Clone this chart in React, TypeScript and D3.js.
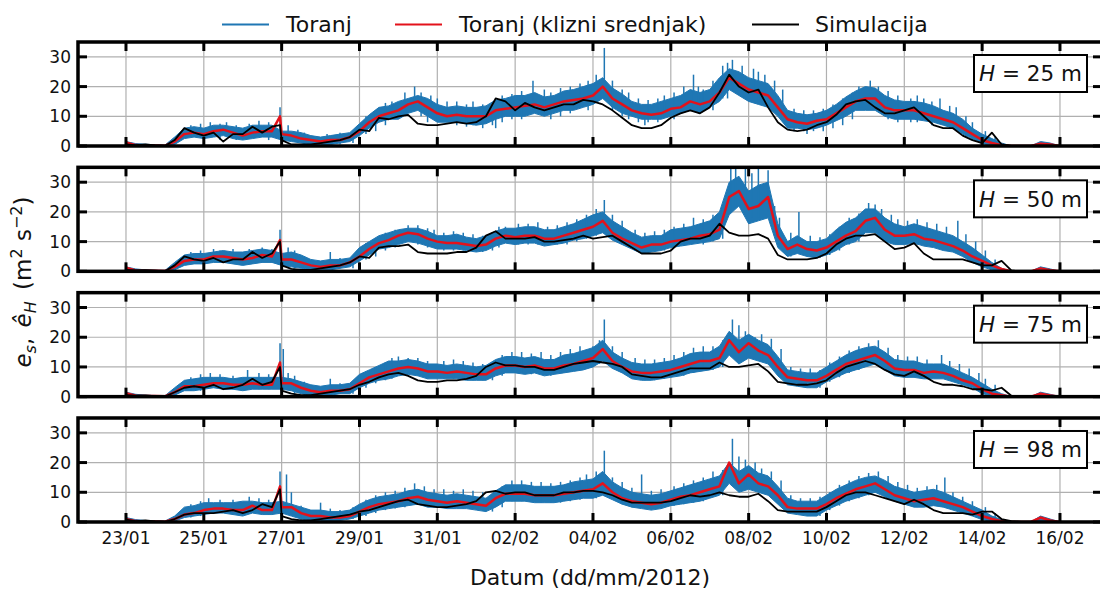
import React from "react";
import * as d3 from "d3";

// ---------------- DATA ----------------
// Sampling grid: every 6 h from 23/01/2012 00:00 to 16/02/2012 00:00 (97 values)
const START = Date.UTC(2012, 0, 23, 0);
const STEP_HOURS = 6;

const heightsM = [25, 50, 75, 98];
const tickLabels = ["23/01", "25/01", "27/01", "29/01", "31/01", "02/02", "04/02", "06/02", "08/02", "10/02", "12/02", "14/02", "16/02"];
const yTicks = [0, 10, 20, 30];
const legendLabels = ["Toranj", "Toranj (klizni srednjak)", "Simulacija"];
const xLabel = "Datum (dd/mm/2012)";

// ---- H = 25 m ----
const toranjHi25 = [
  1.5, 0.8, 0.6, 0.4, 0.3, 3, 6, 6.5, 6, 7, 7, 6.5, 6, 7, 7, 7,
  5, 5, 4.5, 3.5, 3, 3.5, 4, 4.5, 7.5, 10.5, 13, 13.5, 15, 16, 17, 16,
  14, 13, 13.5, 13, 13, 13.5, 15.5, 16, 17, 17, 18, 16.5, 17, 18.5, 19, 20,
  21, 23, 19.5, 17.5, 15, 14, 14, 15, 16, 17, 19, 18, 19, 23, 26, 25,
  23, 22, 21, 17, 12, 11, 10.5, 11, 12, 14, 16.5, 18.5, 20, 19.5, 17, 15.5,
  15, 15, 14.5, 13.5, 12, 11, 9, 6, 4, 2.5, 1, 0, 0, 0, 1.5, 1, 0,
];
const toranjLo25 = [
  0.3, 0, 0, 0, 0, 0.5, 2.5, 3, 2.5, 3, 3.5, 2.5, 2, 2.5, 3, 3,
  2, 1.5, 1, 0.5, 0.5, 0.5, 1, 1.5, 3.5, 6, 8, 9, 9, 11, 12, 10,
  8, 8, 8, 7.5, 7, 7.5, 9, 10, 10, 10, 11, 10, 11, 12, 12, 13,
  14, 16, 13, 11, 10, 9, 9, 9, 10, 11, 12, 11, 13, 15, 19, 17,
  15, 14, 13, 10, 6, 6, 5.5, 6, 7, 8.5, 10, 12, 12, 12, 10, 9,
  9, 9, 8.5, 8, 7, 6, 4, 2.5, 0.8, 0.2, 0, 0, 0, 0, 0, 0, 0,
];
// needles of the raw series: [hours after 23/01 00:00, low, high]
const spikes25 = [
  [0, 0, 2], [40, 3, 7], [46, 3, 7.5], [52, 3, 8], [58, 2, 7.5], [62, 4, 8], [68, 2, 7],
  [76, 3, 7.5], [82, 4, 8.5], [88, 2, 8], [95, 3, 13], [100, 2, 7], [106, 1, 5.5], [110, 0.5, 4.5],
  [124, 0.5, 4], [132, 0.5, 4.5], [140, 1, 5], [148, 4, 10], [154, 5, 12], [160, 7, 14.5],
  [164, 10, 15], [172, 12, 18], [178, 13, 20], [182, 10, 18], [186, 8, 13], [188, 12, 17],
  [192, 9, 16], [198, 10, 15], [204, 7, 15], [210, 6.5, 14], [214, 7, 15], [220, 6, 14],
  [226, 7, 14.5], [228, 6, 10], [232, 8, 17], [238, 9, 17.5], [244, 9, 18.5], [251, 12, 22],
  [258, 12, 19], [262, 9, 18], [268, 10, 19.5], [274, 11, 20], [280, 14, 21], [285, 12, 22],
  [290, 15, 24], [295, 17, 33], [300, 12, 22], [306, 10, 19], [310, 9, 18], [316, 8, 16],
  [320, 7, 10], [322, 8, 15.5], [328, 8, 16], [332, 10, 17], [338, 9, 18], [344, 12, 20],
  [350, 13, 24], [353, 11, 20], [356, 12, 19], [362, 12, 22], [368, 16, 27], [371, 16, 28],
  [374, 19, 29], [380, 18, 27], [387, 17, 26], [390, 15, 25], [394, 16, 24], [400, 12, 22],
  [405, 9, 19], [412, 5, 12.5], [418, 5, 12], [420, 4, 7], [424, 5, 12], [430, 5, 12.5],
  [436, 6, 14], [442, 7, 16], [448, 9, 18], [452, 13, 20], [459, 14, 22], [464, 14, 20],
  [470, 9, 18.5], [476, 8, 17], [484, 8, 16], [488, 8, 17], [492, 10, 16], [497, 7, 15],
  [502, 9, 16], [508, 6, 13.5], [512, 8, 13], [518, 3, 10], [522, 2, 8], [530, 0.5, 5], [536, 0.2, 3],
];
const avg25 = [
  1.2, 0.3, 0.2, 0.2, 0.1, 1.5, 4, 4.5, 4, 5, 5.5, 4.5, 3.5, 4.5, 5, 5,
  4, 3.5, 2.5, 2, 1.5, 2, 2, 3, 5, 8, 10, 11, 12, 14, 15, 13,
  11, 10, 10.5, 10, 10, 10, 12, 12.5, 13, 13.5, 14, 13, 14, 15, 15.5, 16,
  17, 20, 16, 14, 12, 11, 10.5, 11, 12.5, 13, 15, 14, 15, 18, 23, 21,
  19, 18, 17, 13, 9, 8, 7.5, 8.5, 9, 11, 13, 15, 16, 16, 13, 12,
  12, 12, 11, 10, 9, 8, 6, 4, 2, 1, 0.3, 0, 0, 0, 0.8, 0.5, 0,
];
const avgExtra25 = [[95, 10]];
const sim25 = [
  0.5, 0.3, 0.5, 0.2, 0, 2, 6, 4.5, 3.5, 4.5, 1.5, 4, 4, 6.5, 4.5, 6.5,
  2, 0.5, 0.5, 0.5, 1, 1.5, 2, 3, 5.5, 5, 9.5, 9, 10, 10.5, 7.5, 7,
  7, 7.5, 8, 7.5, 8, 10, 16, 15, 12, 14.5, 13, 12, 13, 14, 14, 15.5,
  15, 14, 12, 9.5, 7, 6, 6, 7, 9.5, 11, 12, 11, 13, 18, 24, 20,
  18, 19, 13, 8, 5.5, 5, 5.5, 7, 8, 10.5, 14, 15, 15.5, 13, 11, 11,
  12, 13, 10, 7, 6, 6, 3.5, 2, 1, 4.5, 0.5, 0, 0, 0, 0, 0, 0,
];
const simExtra25 = [[95, 7]];

// ---- H = 50 m ----
const toranjHi50 = [
  1.5, 0.8, 0.5, 0.4, 0.3, 3, 5.5, 6, 6, 6.5, 7, 6.5, 6.5, 7, 7.5, 7,
  6, 6.5, 5.5, 4, 3.5, 4, 4, 4.5, 8, 10, 12, 13, 14, 14.5, 14.5, 13.5,
  12, 12, 12.5, 11.5, 11, 12, 13.5, 14.5, 14.5, 15, 15, 14, 14, 15, 16, 17.5,
  19, 20, 17, 15, 13, 11.5, 12, 12, 14, 14.5, 15, 16, 17, 20, 30, 32,
  27, 29, 30, 16, 10, 12, 10, 10, 11, 14, 16.5, 18, 21, 21, 18, 16,
  15, 16, 15, 14, 13, 12, 10, 8, 5.5, 3, 1, 0, 0, 0, 1.5, 0.8, 0,
];
const toranjLo50 = [
  0.3, 0, 0, 0, 0, 0.5, 2, 2.5, 2.5, 3, 3, 2.5, 2, 2.5, 3, 3,
  2, 1.5, 1, 0.5, 0.5, 0.5, 1, 1.5, 3.5, 5.5, 7.5, 8, 9, 10, 9.5, 8.5,
  7.5, 7.5, 7.5, 7, 6.5, 7, 8.5, 9.5, 9, 9.5, 9.5, 8.5, 9, 9.5, 10.5, 11,
  12, 13, 10.5, 9, 7.5, 6, 6.5, 7, 8, 8.5, 9, 9.5, 10, 11, 19, 22,
  16, 17, 18, 8, 5, 6, 5, 4.5, 5.5, 7, 9, 10, 13, 13, 10, 9,
  9, 9.5, 8.5, 8, 7, 6.5, 5, 3, 1.5, 0.5, 0, 0, 0, 0, 0, 0, 0,
];
const spikes50 = [
  [0, 0, 2.5], [40, 2.5, 6.5], [46, 2.5, 7], [54, 4, 7.5], [58, 3, 7], [66, 2.5, 7.5],
  [76, 2.5, 7.5], [84, 3, 8], [90, 3, 7.5], [95, 3, 14], [100, 3, 8], [104, 1, 7], [110, 0.5, 5],
  [126, 1, 6.5], [132, 1, 4.5], [140, 1, 5], [148, 4, 9.5], [154, 5, 11], [160, 7, 13],
  [166, 8, 14], [174, 11, 15.5], [180, 9, 15.5], [186, 8, 14.5], [190, 8, 14], [196, 7, 13],
  [202, 7, 13.5], [208, 7, 13], [214, 6.5, 12.5], [220, 6.5, 12], [226, 7, 13], [230, 8, 15],
  [234, 10, 15], [242, 9, 16], [248, 9, 16], [254, 9, 16.5], [260, 8.5, 15], [266, 9, 15.5],
  [272, 9, 16.5], [278, 10, 17.5], [284, 11, 19], [290, 12, 21], [295, 14, 24], [300, 11, 19],
  [306, 10, 17], [314, 7, 14], [320, 6, 13], [326, 6.5, 13.5], [332, 7, 14], [338, 8, 15],
  [344, 8.5, 16], [350, 10, 18], [356, 9, 17.5], [362, 10, 19], [368, 11, 22], [373, 20, 38],
  [376, 22, 37], [382, 20, 35], [386, 18, 33], [390, 18, 37], [396, 20, 34], [400, 12, 22],
  [403, 8, 18], [410, 5, 13], [415, 7, 20], [422, 5, 12], [428, 4.5, 11.5], [434, 5.5, 12.5],
  [440, 7, 15], [446, 9, 18], [452, 10, 19.5], [458, 14, 23], [462, 13, 22.5], [466, 14, 21],
  [472, 10, 19], [476, 9, 17.5], [482, 9, 17], [488, 9, 17.5], [494, 8.5, 16.5], [500, 8, 16],
  [506, 7, 15], [513, 7, 17], [518, 6, 12.5], [524, 3, 10], [530, 1.5, 7], [536, 0.5, 4],
];
const avg50 = [
  1.2, 0.3, 0.2, 0.2, 0.1, 1.5, 3.5, 4, 4, 5, 5, 4.5, 4, 4.5, 5.5, 5,
  4, 4, 3, 2, 1.5, 2, 2, 3, 5, 7.5, 9.5, 10.5, 12, 13, 12.5, 11,
  10, 9.5, 9.5, 9, 8.5, 9, 11, 12, 11.5, 12, 12, 11, 11, 12, 13, 14,
  15, 17, 13, 11, 9.5, 8, 9, 9, 10, 10.5, 11, 12, 12.5, 14, 25, 27,
  21, 22, 25, 12, 7.5, 9, 7.5, 7, 8, 10, 12, 13.5, 17, 18, 14, 12,
  12, 12.5, 11, 10.5, 9.5, 8.5, 7, 5, 3.5, 2, 0.8, 0, 0, 0, 1, 0.4, 0,
];
const avgExtra50 = [[95, 10.5]];
const sim50 = [
  0.5, 0.3, 0.4, 0.2, 0, 2, 5, 4, 3.5, 4.5, 3, 4, 4, 6.5, 4.5, 6,
  2, 0.8, 0.5, 0.5, 1, 1.5, 2, 3, 5, 4.5, 8, 8.5, 8.5, 9, 6.5, 6,
  6, 6, 6.5, 6.5, 8, 12, 13.5, 11, 11, 11, 11.5, 10, 10, 10.5, 11, 12,
  11, 11.5, 12, 10, 8, 6, 6, 6, 7, 10, 11, 11, 12, 16, 13, 12,
  12, 12.5, 11, 5.5, 4, 4, 4, 4.5, 6, 9, 11, 12, 12, 12.5, 10, 7.5,
  8, 9.5, 6, 4, 4, 4, 4, 3, 2, 2, 3.5, 0.3, 0, 0, 0, 0, 0,
];
const simExtra50 = [[95, 10]];

// ---- H = 75 m ----
const toranjHi75 = [
  1.5, 0.8, 0.5, 0.4, 0.3, 3, 5.5, 6, 6.5, 6.5, 6.5, 6, 6.5, 6.5, 6.5, 6.5,
  6.5, 6, 5, 4, 3.5, 4, 4, 4.5, 7.5, 9, 10.5, 12, 12, 12.5, 12, 11,
  11, 10.5, 11, 10.5, 10, 10.5, 12.5, 13.5, 13.5, 13, 13.5, 12.5, 12.5, 14, 14.5, 15.5,
  16.5, 19, 15, 13, 11.5, 11, 11, 11.5, 12, 13, 14.5, 15, 15, 17, 22, 19,
  21, 19, 17.5, 13.5, 9, 8.5, 8, 8, 10, 12, 14, 15.5, 16.5, 17, 15, 12.5,
  12, 12, 11, 11, 11, 9.5, 8, 6.5, 4.5, 2.5, 1, 0, 0, 0, 1.5, 0.8, 0,
];
const toranjLo75 = [
  0.3, 0, 0, 0, 0, 0.5, 2, 2, 2.5, 3, 2.5, 2.5, 2, 2.5, 2.5, 2.5,
  2.5, 2, 1, 0.5, 0.5, 0.5, 1, 1, 3, 4.5, 5.5, 6, 7, 7.5, 7, 6,
  6, 6, 6, 5.5, 5.5, 5.5, 7, 8, 8, 7.5, 8, 7, 7.5, 8, 8.5, 9,
  10, 12, 9.5, 8, 6, 5.5, 5.5, 6, 6.5, 7, 8, 8.5, 9, 10, 14, 11,
  13, 12, 11, 7, 4, 3.5, 3, 3, 5, 6.5, 8, 9, 10, 11, 9, 7,
  6.5, 6.5, 6, 6, 6, 5, 4, 3, 1, 0.3, 0, 0, 0, 0, 0, 0, 0,
];
const spikes75 = [
  [0, 0, 2.5], [40, 2, 6.5], [46, 2, 7.5], [52, 3, 8], [58, 3, 7.5], [66, 2.5, 7], [75, 3, 9],
  [82, 2.5, 8], [88, 2.5, 7.5], [95, 3, 18], [97, 3, 16], [100, 3, 8], [104, 1, 7], [110, 0.5, 5],
  [126, 1, 6], [132, 1, 4.5], [140, 1, 5], [148, 3, 8.5], [154, 4.5, 10], [160, 5.5, 11.5],
  [164, 6, 13], [168, 8, 13.5], [174, 7.5, 13], [180, 7, 13], [186, 6, 12], [196, 6, 12],
  [202, 6, 12.5], [208, 6, 12], [214, 5.5, 11.5], [220, 5.5, 11], [226, 5.5, 11.5], [232, 7, 14],
  [238, 8, 15], [244, 8, 15], [250, 7.5, 14.5], [256, 8, 15], [262, 7, 14], [268, 8, 15],
  [274, 8.5, 16], [280, 9, 17], [288, 11, 17], [292, 11, 19], [295, 13, 26], [300, 9.5, 17],
  [306, 8, 15], [314, 6, 13], [320, 5.5, 12.5], [326, 5.5, 12.5], [332, 6, 13], [338, 7, 14],
  [344, 7, 15], [350, 8, 16.5], [356, 10, 17], [362, 9, 17], [368, 10, 19], [374, 15, 26],
  [378, 14, 24], [382, 13, 22], [388, 14, 20], [392, 12, 21], [398, 11, 19.5], [404, 7, 16],
  [410, 4, 10], [416, 3.5, 9.5], [422, 3, 9.5], [428, 3, 9], [434, 5, 11.5], [440, 6.5, 13.5],
  [446, 8, 15.5], [452, 9, 17], [458, 11, 18], [464, 11, 19], [470, 9, 16.5], [476, 7, 14],
  [482, 6.5, 13.5], [488, 6.5, 13.5], [494, 6, 12.5], [503, 8, 14], [508, 6, 12], [514, 5, 11],
  [520, 4, 9.5], [526, 3, 8], [530, 1, 6], [536, 0.3, 4],
];
const avg75 = [
  1.2, 0.3, 0.2, 0.2, 0.1, 1.5, 3.5, 3.5, 4, 4.5, 4.5, 4, 4, 4.5, 4, 4,
  4.5, 4.5, 3, 2, 1.5, 2, 2, 2.5, 4.5, 6.5, 7.5, 8.5, 9.5, 10, 9.5, 8.5,
  8.5, 8, 8.5, 8, 7.5, 7.5, 9.5, 10.5, 10.5, 10, 10.5, 9.5, 9.5, 10.5, 11, 12,
  13, 16, 12, 10, 8.5, 8, 8, 8.5, 9, 10, 11, 12, 12, 13, 19, 15,
  18, 15.5, 14, 10, 6.5, 6, 5.5, 5.5, 7, 9, 11, 12, 13, 14, 12, 9.5,
  9, 9, 8, 8.5, 8, 7, 5.5, 4.5, 2.5, 1, 0.5, 0, 0, 0, 1, 0.4, 0,
];
const avgExtra75 = [[95, 11.5]];
const sim75 = [
  0.5, 0.3, 0.4, 0.2, 0, 1.5, 3, 3.5, 3, 4, 2.5, 3, 4, 6, 4, 5,
  2, 1, 0.5, 0.5, 1, 1.5, 2, 2.5, 4, 5, 6.5, 7.5, 8, 7, 5.5, 5,
  5, 5.5, 5.5, 6, 7, 10, 11.5, 10.5, 10.5, 10, 10, 9, 9, 10, 11, 11.5,
  12, 11.5, 11, 10, 7.5, 7, 6.5, 6.5, 7.5, 8.5, 9.5, 9.5, 9.5, 11.5, 10, 10,
  10.5, 11, 8.5, 5, 4.5, 4, 4, 4.5, 5.5, 8, 10, 11, 12, 11, 9, 7.5,
  7, 8.5, 7, 5, 4, 4, 3.5, 2.5, 2.5, 2, 3, 0.3, 0, 0, 0, 0, 0,
];
const simExtra75 = [[95, 10]];

// ---- H = 98 m ----
const toranjHi98 = [
  1.5, 0.8, 0.5, 0.4, 0.3, 2, 5, 5.5, 6.5, 6.5, 6.5, 6.5, 7, 7, 6.5, 6.5,
  7, 6, 5, 4, 4, 3.5, 3.5, 4, 6, 7.5, 8.5, 9, 9.5, 10.5, 11, 10,
  9.5, 9, 9.5, 9, 8.5, 8, 10.5, 12.5, 12.5, 12.5, 12, 12, 12, 12.5, 13.5, 14,
  14.5, 17, 13.5, 11.5, 10, 9.5, 9, 9.5, 10.5, 11.5, 12.5, 13.5, 14.5, 15.5, 20, 17,
  19, 16.5, 15.5, 12, 8, 7, 7, 7, 9, 11, 12.5, 14, 15, 15.5, 14, 12,
  11, 10, 10.5, 11, 10, 8.5, 7, 5.5, 4, 2, 0.8, 0, 0, 0, 2, 1, 0,
];
const toranjLo98 = [
  0.3, 0, 0, 0, 0, 0.3, 1.5, 2, 2.5, 3, 3, 2.5, 2, 3, 2.5, 2.5,
  3, 2, 1, 0.5, 0.5, 0.3, 0.5, 1, 2, 3, 4, 4.5, 5, 5.5, 6, 5,
  5, 4.5, 4.5, 4.5, 4, 3.5, 5, 7, 7, 7, 6.5, 6.5, 6.5, 7, 7.5, 8,
  8, 9, 7.5, 6, 5, 4.5, 4, 4.5, 5.5, 6, 6.5, 7, 8, 9, 13, 10,
  11, 10, 9, 6, 3, 2.5, 2, 2, 4, 5.5, 7, 8, 9, 10, 8.5, 7,
  6, 5, 5, 5.5, 5, 4, 3, 2, 0.8, 0.2, 0, 0, 0, 0, 0, 0, 0,
];
const spikes98 = [
  [0, 0, 2], [40, 1.5, 6], [46, 2, 7], [51, 3, 8], [58, 3, 7.5], [66, 2.5, 7.5], [76, 3, 8.5],
  [82, 3, 8], [88, 2.5, 7.5], [95, 3, 17], [99, 3, 16], [102, 3, 10], [108, 0.5, 5.5],
  [120, 1, 6.5], [126, 0.3, 4.5], [132, 0.5, 4], [140, 1, 5], [148, 2, 7.5], [154, 3, 9],
  [160, 4, 10], [166, 4.5, 10.5], [172, 5, 11.5], [178, 6, 13], [184, 6, 12], [190, 5, 11],
  [196, 5, 11], [202, 4.5, 10.5], [208, 4.5, 11], [214, 4.5, 10.5], [220, 4, 10], [226, 3.5, 9.5],
  [232, 5, 12], [238, 7, 14], [244, 7, 14], [250, 7, 13.5], [256, 6.5, 13.5], [262, 6.5, 13],
  [268, 6.5, 13.5], [274, 7, 14], [280, 7.5, 15], [284, 9, 16], [290, 8, 17], [295, 10, 24],
  [300, 8, 15], [306, 6, 13.5], [312, 5, 11.5], [318, 5, 16], [324, 4, 10.5], [330, 4.5, 11],
  [338, 5.5, 12], [344, 6, 13], [350, 6.5, 14], [356, 7, 15], [362, 9, 17], [368, 9, 17.5],
  [374, 13, 28], [378, 12, 22], [382, 12, 21], [388, 12, 20], [392, 10, 18], [398, 9, 17],
  [404, 6, 14], [410, 3, 9], [416, 2.5, 8], [422, 2, 8], [428, 2, 8.5], [434, 4, 10],
  [440, 5.5, 12.5], [446, 7, 14], [452, 8, 15.5], [458, 9, 16.5], [464, 10, 17], [470, 8.5, 15.5],
  [476, 7, 13.5], [482, 6, 12.5], [488, 5, 11.5], [494, 5, 12], [500, 5.5, 12.5], [505, 5, 15],
  [510, 4, 10], [516, 3, 8.5], [522, 2, 7], [530, 0.8, 5], [536, 0.2, 3],
];
const avg98 = [
  1, 0.3, 0.2, 0.2, 0.1, 1, 2.5, 3, 4, 4.5, 4.5, 4, 4, 5.5, 4, 4,
  5, 5, 3, 2, 2, 1.5, 1.5, 2, 3.5, 5, 6, 6.5, 7, 8, 8.5, 7.5,
  7, 6.5, 7, 6.5, 6, 5.5, 8, 9.5, 9.5, 9.5, 9, 9, 9, 9.5, 10, 10.5,
  11, 13, 10, 8, 7, 6.5, 6, 6.5, 7.5, 8.5, 9, 10, 11, 12, 20, 13,
  16, 13, 12, 9, 5, 4.5, 4.5, 4.5, 6, 8, 9.5, 11, 12, 13, 11, 9,
  8, 7, 7.5, 8, 7, 6, 5, 3.5, 2, 1, 0.3, 0, 0, 0, 1.5, 0.5, 0,
];
const avgExtra98 = [[95, 12]];
const sim98 = [
  0.8, 0.3, 0.5, 0.2, 0, 1, 2.5, 3, 3, 3, 3.5, 4, 3, 4, 6, 5,
  2, 1, 0.5, 0.5, 1, 1.5, 2, 2.5, 3.5, 4, 5, 6, 7, 7.5, 6, 5.5,
  5, 5, 5.5, 6, 7, 10, 10.5, 9.5, 10, 10, 9, 9, 9, 10, 10, 10.5,
  10.5, 10, 9, 7.5, 6.5, 6.5, 6.5, 6.5, 7, 8, 9, 8.5, 9, 10, 9, 8.5,
  8.5, 9.5, 7, 4, 3.5, 3.5, 3.5, 3.5, 5, 7, 9, 10, 10, 9, 8, 7,
  6, 7.5, 6, 4, 3, 3, 3, 2.5, 3.5, 3.5, 1, 0.3, 0, 0, 0, 0, 0,
];
const simExtra98 = [[95, 11]];

const panels = [
  { h: heightsM[0], hi: toranjHi25, lo: toranjLo25, spikes: spikes25, avg: avg25, avgExtra: avgExtra25, sim: sim25, simExtra: simExtra25 },
  { h: heightsM[1], hi: toranjHi50, lo: toranjLo50, spikes: spikes50, avg: avg50, avgExtra: avgExtra50, sim: sim50, simExtra: simExtra50 },
  { h: heightsM[2], hi: toranjHi75, lo: toranjLo75, spikes: spikes75, avg: avg75, avgExtra: avgExtra75, sim: sim75, simExtra: simExtra75 },
  { h: heightsM[3], hi: toranjHi98, lo: toranjLo98, spikes: spikes98, avg: avg98, avgExtra: avgExtra98, sim: sim98, simExtra: simExtra98 },
];

// ---------------- LAYOUT / STYLE ----------------
const HOUR = 3600 * 1000;
const DAY = 24 * HOUR;
const FONT = "'DejaVu Sans', sans-serif";
const BLUE = "#1f77b4";
const RED = "#e3121b";
const GRID = "#b0b0b0";
const LEFT = 78;
const RIGHT = 1102;
const TOP0 = 42;
const PSTEP = 125.33;
const PH = 104;
const TICK_LEN = 9;

const tAt = (k: number) => START + k * STEP_HOURS * HOUR;
const merged = (vals: number[], extra: number[][]) =>
  [...vals.map((v, k) => [tAt(k), v]), ...extra.map(([h, v]) => [START + h * HOUR, v])].sort((a, b) => a[0] - b[0]);

export default function App() {
  const x = d3
    .scaleUtc()
    .domain([new Date(START - 1.233 * DAY), new Date(START + 25.08 * DAY)])
    .range([LEFT, RIGHT]);
  const parse = d3.utcParse("%d/%m/%Y");
  const tickDates = tickLabels.map((l) => parse(l + "/2012") as Date);

  return (
    <svg
      width={1100}
      height={590}
      viewBox="0 0 1100 590"
      style={{ position: "absolute", left: 0, top: 0, background: "#fff" }}
      fontFamily={FONT}
    >
      <rect x={0} y={0} width={1100} height={590} fill="#fff" />
      <defs>
        {panels.map((p, i) => (
          <clipPath id={`clip${i}`} key={i}>
            <rect x={LEFT} y={TOP0 + i * PSTEP} width={RIGHT - LEFT} height={PH} />
          </clipPath>
        ))}
      </defs>

      {panels.map((p, i) => {
        const top = TOP0 + i * PSTEP;
        const bottom = top + PH;
        const y = d3.scaleLinear().domain([0, 35]).range([bottom, top]);
        const n = Math.min(p.hi.length, p.lo.length);
        const band = d3
          .area<number>()
          .x((_, k) => x(tAt(k)))
          .y0((_, k) => y(p.lo[k]))
          .y1((v) => y(v));
        const line = d3
          .line<number[]>()
          .x((d) => x(d[0]))
          .y((d) => y(d[1]));
        const bandPath = band(p.hi.slice(0, n)) || "";
        return (
          <g key={i}>
            {tickDates.map((d, j) => (
              <line key={"gx" + j} x1={x(d)} x2={x(d)} y1={top} y2={bottom} stroke={GRID} strokeWidth={1.2} />
            ))}
            {yTicks.map((v, j) => (
              <line key={"gy" + j} x1={LEFT} x2={RIGHT} y1={y(v)} y2={y(v)} stroke={GRID} strokeWidth={1.2} />
            ))}
            <g clipPath={`url(#clip${i})`}>
              <path d={bandPath} fill={BLUE} stroke={BLUE} strokeWidth={1} strokeLinejoin="round" />
              {p.spikes.map((s, j) => (
                <line
                  key={"sp" + j}
                  x1={x(START + s[0] * HOUR)}
                  x2={x(START + s[0] * HOUR)}
                  y1={y(s[1])}
                  y2={y(s[2])}
                  stroke={BLUE}
                  strokeWidth={1.5}
                />
              ))}
              <path d={line(merged(p.avg, p.avgExtra)) || ""} fill="none" stroke={RED} strokeWidth={2.5} strokeLinejoin="round" />
              <path d={line(merged(p.sim, p.simExtra)) || ""} fill="none" stroke="#000" strokeWidth={1.8} strokeLinejoin="round" />
            </g>
            {tickDates.map((d, j) => (
              <g key={"tx" + j}>
                <line x1={x(d)} x2={x(d)} y1={bottom} y2={bottom - TICK_LEN} stroke="#000" strokeWidth={3} />
                <line x1={x(d)} x2={x(d)} y1={top} y2={top + TICK_LEN} stroke="#000" strokeWidth={3} />
              </g>
            ))}
            {yTicks.map((v, j) => (
              <g key={"ty" + j}>
                <line x1={LEFT} x2={LEFT + TICK_LEN} y1={y(v)} y2={y(v)} stroke="#000" strokeWidth={3} />
                <line x1={RIGHT} x2={RIGHT - TICK_LEN} y1={y(v)} y2={y(v)} stroke="#000" strokeWidth={3} />
                <text x={71} y={y(v)} dy="0.36em" textAnchor="end" fontSize={17} fill="#111">
                  {v}
                </text>
              </g>
            ))}
            <rect x={LEFT} y={top} width={RIGHT - LEFT} height={PH} fill="none" stroke="#000" strokeWidth={3.5} />
            <rect x={974} y={top + 13} width={113} height={37} fill="#fff" stroke="#000" strokeWidth={2} />
            <text x={1030.5} y={top + 13 + 18.5} dy="0.36em" textAnchor="middle" fontSize={21.5} fill="#111">
              <tspan fontStyle="italic">H</tspan>
              {` = ${p.h} m`}
            </text>
            {i === panels.length - 1 &&
              tickDates.map((d, j) => (
                <text key={"lx" + j} x={x(d)} y={543.5} textAnchor="middle" fontSize={17} fill="#111">
                  {tickLabels[j]}
                </text>
              ))}
          </g>
        );
      })}

      {[
        { c: BLUE, x0: 222, tx: 286 },
        { c: RED, x0: 395, tx: 459 },
        { c: "#000", x0: 752, tx: 815 },
      ].map((l, j) => (
        <g key={"lg" + j}>
          <line x1={l.x0} x2={l.x0 + 47} y1={24.5} y2={24.5} stroke={l.c} strokeWidth={2} />
          <text x={l.tx} y={24.5} dy="0.36em" fontSize={22} fill="#111">
            {legendLabels[j]}
          </text>
        </g>
      ))}

      <text x={(LEFT + RIGHT) / 2} y={585} textAnchor="middle" fontSize={22} fill="#111">
        {xLabel}
      </text>
      <text transform="translate(31,282) rotate(-90)" textAnchor="middle" fontSize={23} fill="#111">
        <tspan fontStyle="italic">e</tspan>
        <tspan fontStyle="italic" fontSize={16} dy={4.5}>s</tspan>
        <tspan dy={-4.5}>, </tspan>
        <tspan fontStyle="italic" dx={3}>ê</tspan>
        <tspan fontStyle="italic" fontSize={16} dy={4.5}>H</tspan>
        <tspan dy={-4.5} dx={4}> (m</tspan>
        <tspan fontSize={16} dy={-9}>2</tspan>
        <tspan dy={9}> s</tspan>
        <tspan fontSize={16} dy={-9}>−2</tspan>
        <tspan dy={9}>)</tspan>
      </text>
    </svg>
  );
}
